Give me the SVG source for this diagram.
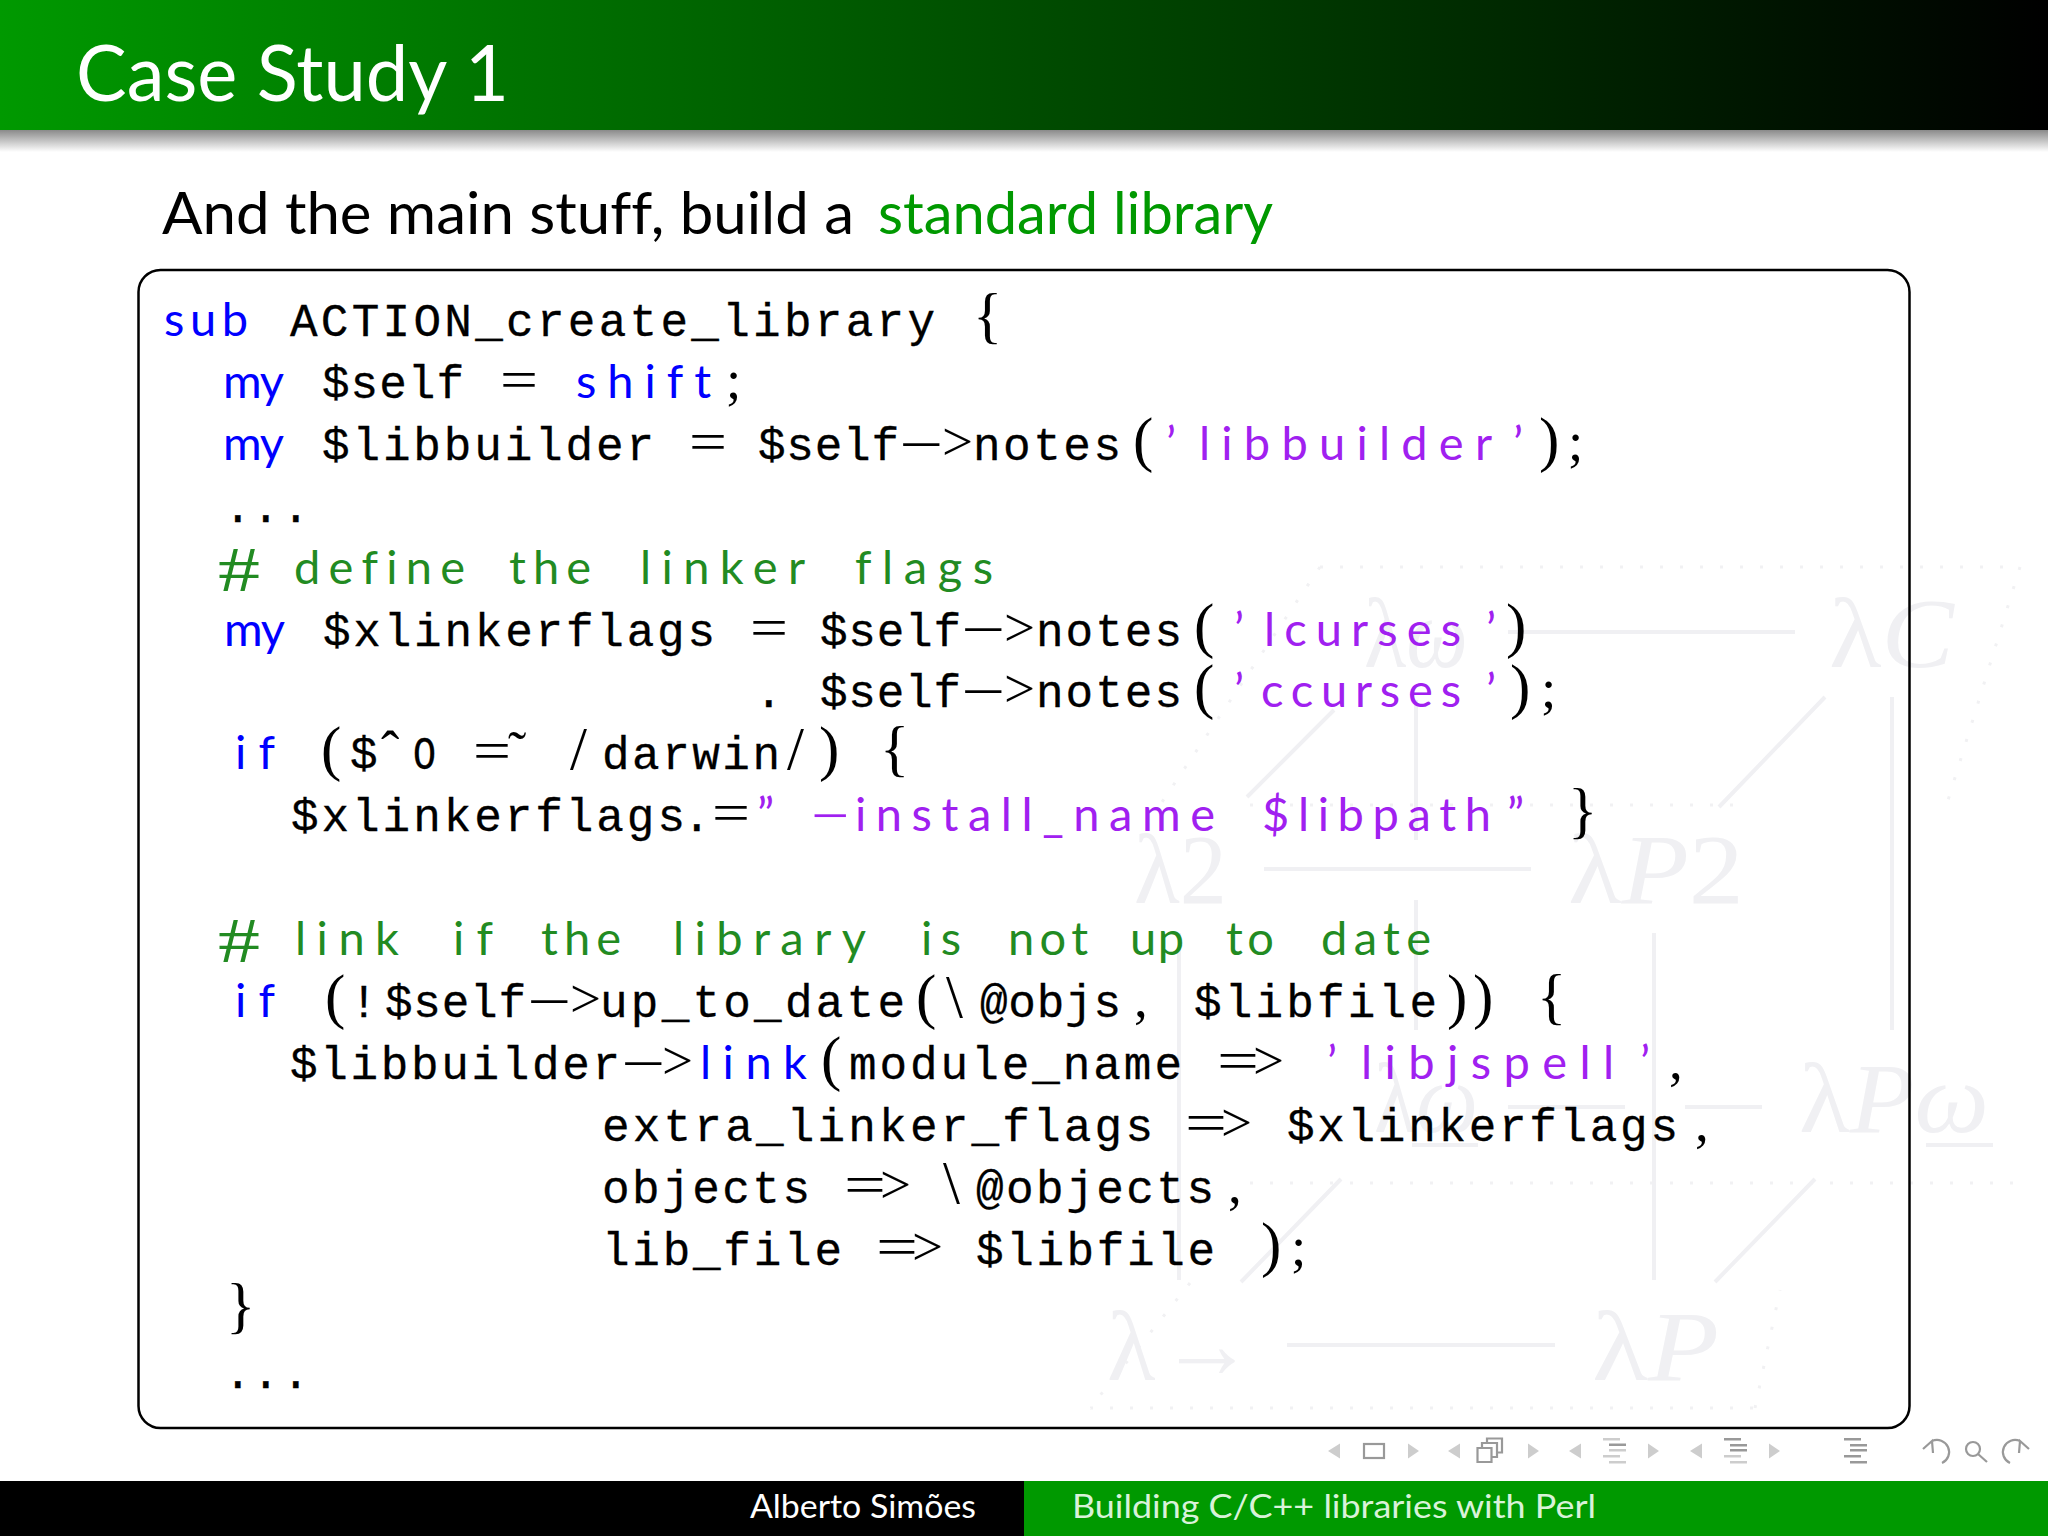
<svg xmlns="http://www.w3.org/2000/svg" width="2048" height="1536" viewBox="0 0 2048 1536">
<style>
text{white-space:pre;font-variant-ligatures:none}
.ss{font-family:"Lato","Liberation Sans",sans-serif}
.t{font-family:"Liberation Mono",monospace;font-size:46px;fill:#000;stroke:#000;stroke-width:.3px}
.k,.c,.s{font-family:"Lato","Liberation Sans",sans-serif;font-size:47px}
.k{fill:#0000ff}.c{fill:#228b22}.s{fill:#a020f0}
.m{font-family:"Liberation Serif",serif;font-size:55px;fill:#000}
.b{font-family:"Liberation Serif",serif;font-size:61px;fill:#000}
.h{font-family:"Liberation Serif",serif;font-size:63px;fill:#228b22}
.p{fill:#a020f0}
.w{font-family:"Liberation Serif",serif;font-size:100px;fill:#f0f0f3}
.wi{font-style:italic}
.wl{stroke:#f0f0f3;stroke-width:4;fill:none}
.wd{stroke:#f1f1f3;stroke-width:3;stroke-dasharray:3 17;fill:none}
.n{fill:#cdcdcd}
.nd{fill:#999}
.nl{stroke:#999;stroke-width:2.2;fill:none}
</style>
<defs>
<linearGradient id="hg" x1="0" x2="1" y1="0" y2="0"><stop offset="0" stop-color="#009900"/><stop offset="1" stop-color="#000"/></linearGradient>
<linearGradient id="sh" x1="0" x2="0" y1="0" y2="1"><stop offset="0" stop-color="#8a8a8a"/><stop offset="1" stop-color="#fff"/></linearGradient>
<path id="lt" class="n" d="M0 -7.5L-12 0L0 7.5z"/>
<path id="gt" class="n" d="M0 -7.5L11 0L0 7.5z"/>
</defs>
<rect width="2048" height="1536" fill="#fff"/>

<g id="watermark">
<path class="wd" d="M1320 567H2020M1250 805H1750M1250 1183H2020M1090 1408H1755M2020 567L1945 810M1320 567L1160 805M1190 1283L1090 1408M1755 1408L1780 1290"/>
<path class="wl" d="M1508 632H1795M1264 869H1531M1508 1107H1625M1685 1107H1762M1287 1345H1555"/>
<path class="wl" d="M1334 710L1247 797M1825 697L1719 807M1341 1179L1241 1282M1815 1179L1715 1282"/>
<path class="wl" d="M1416 700V840M1416 900V1030M1892 697V1030M1179 933V1280M1654 933V1280M1412 1145H1478M1926 1145H1993"/>
<text class="w" x="1364" y="667" textLength="104" lengthAdjust="spacingAndGlyphs">λ<tspan class="wi">ω</tspan></text>
<text class="w" x="1829" y="667" textLength="125" lengthAdjust="spacingAndGlyphs">λ<tspan class="wi">C</tspan></text>
<text class="w" x="1134" y="903" textLength="93" lengthAdjust="spacingAndGlyphs">λ2</text>
<text class="w" x="1568" y="903" textLength="176" lengthAdjust="spacingAndGlyphs">λ<tspan class="wi">P</tspan>2</text>
<text class="w" x="1374" y="1132" textLength="104" lengthAdjust="spacingAndGlyphs">λ<tspan class="wi">ω</tspan></text>
<text class="w" x="1799" y="1132" textLength="190" lengthAdjust="spacingAndGlyphs">λ<tspan class="wi">Pω</tspan></text>
<text class="w" x="1107" y="1380">λ</text>
<text class="w" x="1160" y="1378" textLength="94" lengthAdjust="spacingAndGlyphs">→</text>
<text class="w" x="1592" y="1380" textLength="127" lengthAdjust="spacingAndGlyphs">λ<tspan class="wi">P</tspan></text>
</g>

<g id="header">
<rect width="2048" height="130" fill="url(#hg)"/>
<rect y="130" width="2048" height="22" fill="url(#sh)"/>
<text class="ss" x="76" y="100.5" font-size="78" fill="#fff" textLength="433" lengthAdjust="spacingAndGlyphs">Case Study 1</text>
</g>

<g id="subtitle">
<text class="ss" x="162" y="234" font-size="58" fill="#000" textLength="692" lengthAdjust="spacingAndGlyphs">And the main stuff, build a</text>
<text class="ss" x="878" y="234" font-size="58" fill="#009900" textLength="395" lengthAdjust="spacingAndGlyphs">standard library</text>
</g>

<rect id="codebox" x="138.5" y="270" width="1771" height="1158" rx="22" ry="22" fill="none" stroke="#000" stroke-width="2.5"/>

<g id="code" transform="translate(0,1)">
<text class="k" x="164" y="335" textLength="84">sub</text><text class="t" x="290" y="335" textLength="645">ACTION_create_library</text><text class="b" x="973" y="335">{</text>

<text class="k" x="223" y="397" textLength="61">my</text><text class="t" x="322" y="397" textLength="142">$self</text><text class="m" x="500" y="397" textLength="38" lengthAdjust="spacingAndGlyphs">=</text><text class="k" x="576" y="397" textLength="135">shift</text><text class="m" x="726" y="397">;</text>

<text class="k" x="223" y="459" textLength="61">my</text><text class="t" x="322" y="459" textLength="332">$libbuilder</text><text class="m" x="689" y="459" textLength="38" lengthAdjust="spacingAndGlyphs">=</text><text class="t" x="758" y="459" textLength="141">$self</text><text class="m" x="899" y="461.5" textLength="44" lengthAdjust="spacingAndGlyphs">−</text><text class="m" x="942" y="459">&gt;</text><text class="t" x="973" y="459" textLength="148">notes</text><text class="b" x="1133" y="459">(</text><text class="s" x="1166" y="459">’</text><text class="s" x="1199" y="459" textLength="293">libbuilder</text><text class="s" x="1513" y="459">’</text><text class="b" x="1539" y="459">)</text><text class="m" x="1568" y="459">;</text>

<text class="t" x="224 252 282" y="520.7">...</text>

<text class="h" x="218" y="590" textLength="42" lengthAdjust="spacingAndGlyphs">#</text><text class="c" x="294" y="582.6" textLength="171">define</text><text class="c" x="509" y="582.6" textLength="82">the</text><text class="c" x="640" y="582.6" textLength="165">linker</text><text class="c" x="855" y="582.6" textLength="138">flags</text>

<text class="k" x="224" y="644.5" textLength="61">my</text><text class="t" x="323" y="644.5" textLength="392">$xlinkerflags</text><text class="m" x="750" y="644.5" textLength="38" lengthAdjust="spacingAndGlyphs">=</text><text class="t" x="820" y="644.5" textLength="141">$self</text><text class="m" x="961" y="647" textLength="44" lengthAdjust="spacingAndGlyphs">−</text><text class="m" x="1004" y="644.5">&gt;</text><text class="t" x="1036" y="644.5" textLength="146">notes</text><text class="b" x="1194" y="644.5">(</text><text class="s" x="1234" y="644.5">’</text><text class="s" x="1264" y="644.5" textLength="197">lcurses</text><text class="s" x="1486" y="644.5">’</text><text class="b" x="1506" y="644.5">)</text>

<text class="t" x="755" y="706.4">.</text><text class="t" x="820" y="706.4" textLength="141">$self</text><text class="m" x="961" y="709" textLength="44" lengthAdjust="spacingAndGlyphs">−</text><text class="m" x="1004" y="706.4">&gt;</text><text class="t" x="1036" y="706.4" textLength="146">notes</text><text class="b" x="1194" y="706.4">(</text><text class="s" x="1234" y="706.4">’</text><text class="s" x="1261" y="706.4" textLength="200">ccurses</text><text class="s" x="1486" y="706.4">’</text><text class="b" x="1510" y="706.4">)</text><text class="m" x="1541" y="706.4">;</text>

<text class="k" x="235" y="768.3" textLength="40">if</text><text class="b" x="321" y="768.3">(</text><text class="t" x="350" y="768.3">$</text><text class="m" x="381" y="768.3">ˆ</text><text class="t" x="413" y="768.3" textLength="23" lengthAdjust="spacingAndGlyphs">O</text><text class="m" x="473" y="768.3" textLength="38" lengthAdjust="spacingAndGlyphs">=</text><text class="m" x="508" y="768.3">˜</text><text class="b" x="570" y="768.3">/</text><text class="t" x="602" y="768.3" textLength="178">darwin</text><text class="b" x="787" y="768.3">/</text><text class="b" x="819" y="768.3">)</text><text class="b" x="880" y="768.3">{</text>

<text class="t" x="291" y="830.2" textLength="394">$xlinkerflags</text><text class="t" x="683" y="830.2">.</text><text class="m" x="712" y="830.2" textLength="38" lengthAdjust="spacingAndGlyphs">=</text><text class="s" x="757" y="830.2">”</text><text class="m p" x="811" y="832.5" textLength="38" lengthAdjust="spacingAndGlyphs">−</text><text class="s" x="855" y="830.2" textLength="360">install_name</text><text class="s" x="1262" y="830.2" textLength="229">$libpath</text><text class="s" x="1507" y="830.2">”</text><text class="b" x="1568" y="830.2">}</text>

<text class="h" x="218" y="961.4" textLength="42" lengthAdjust="spacingAndGlyphs">#</text><text class="c" x="295" y="954" textLength="104">link</text><text class="c" x="453" y="954" textLength="40">if</text><text class="c" x="541" y="954" textLength="80">the</text><text class="c" x="673" y="954" textLength="193">library</text><text class="c" x="921" y="954" textLength="40">is</text><text class="c" x="1008" y="954" textLength="80">not</text><text class="c" x="1130" y="954" textLength="54">up</text><text class="c" x="1226" y="954" textLength="48">to</text><text class="c" x="1321" y="954" textLength="110">date</text>

<text class="k" x="235" y="1016" textLength="40">if</text><text class="b" x="325" y="1016">(</text><text class="t" x="350" y="1016">!</text><text class="t" x="385" y="1016" textLength="141">$self</text><text class="m" x="527" y="1018.5" textLength="44" lengthAdjust="spacingAndGlyphs">−</text><text class="m" x="570" y="1016">&gt;</text><text class="t" x="600" y="1016" textLength="305">up_to_date</text><text class="b" x="916" y="1016">(</text><text class="b" x="946" y="1016">\</text><text class="t" x="980" y="1016" textLength="141">@objs</text><text class="m" x="1134" y="1016">,</text><text class="t" x="1194" y="1016" textLength="243">$libfile</text><text class="b" x="1447" y="1016">)</text><text class="b" x="1473" y="1016">)</text><text class="b" x="1537" y="1016">{</text>

<text class="t" x="290" y="1078" textLength="330">$libbuilder</text><text class="m" x="621" y="1080.5" textLength="44" lengthAdjust="spacingAndGlyphs">−</text><text class="m" x="662" y="1078">&gt;</text><text class="k" x="700" y="1078" textLength="107">link</text><text class="b" x="821" y="1078">(</text><text class="t" x="849" y="1078" textLength="333">module_name</text><text class="m" x="1217" y="1078" textLength="42" lengthAdjust="spacingAndGlyphs">=</text><text class="m" x="1253" y="1078">&gt;</text><text class="s" x="1327" y="1078">’</text><text class="s" x="1361" y="1078" textLength="253">libjspell</text><text class="s" x="1640" y="1078">’</text><text class="m" x="1669" y="1078">,</text>

<text class="t" x="602" y="1139.7" textLength="551">extra_linker_flags</text><text class="m" x="1185" y="1139.7" textLength="42" lengthAdjust="spacingAndGlyphs">=</text><text class="m" x="1221" y="1139.7">&gt;</text><text class="t" x="1287" y="1139.7" textLength="391">$xlinkerflags</text><text class="m" x="1695" y="1139.7">,</text>

<text class="t" x="602" y="1201.6" textLength="208">objects</text><text class="m" x="844" y="1201.6" textLength="42" lengthAdjust="spacingAndGlyphs">=</text><text class="m" x="880" y="1201.6">&gt;</text><text class="b" x="943" y="1201.6">\</text><text class="t" x="976" y="1201.6" textLength="238">@objects</text><text class="m" x="1228" y="1201.6">,</text>

<text class="t" x="602" y="1263.5" textLength="240">lib_file</text><text class="m" x="876" y="1263.5" textLength="42" lengthAdjust="spacingAndGlyphs">=</text><text class="m" x="912" y="1263.5">&gt;</text><text class="t" x="976" y="1263.5" textLength="239">$libfile</text><text class="b" x="1261" y="1263.5">)</text><text class="m" x="1291" y="1263.5">;</text>

<text class="b" x="226" y="1325.4">}</text>
<text class="t" x="224 252 282" y="1387.3">...</text>
</g>

<g id="navigation">
<use href="#lt" x="1340" y="1451"/><rect class="nl" x="1364" y="1444" width="20" height="14"/><use href="#gt" x="1408" y="1451"/>
<use href="#lt" x="1460" y="1451"/><path class="nl" d="M1477.5 1448h14v14h-14zM1482 1448v-5h15v14h-5.500M1487 1443v-4.500h15v14h-5"/><use href="#gt" x="1528" y="1451"/>
<use href="#lt" x="1581" y="1451"/>
<path class="n" d="M1603 1438h17v2.500h-17zM1609 1449h17v2.500h-17zM1603 1455h17v2.500h-17zM1609 1461h17v2.500h-17z"/><path class="nd" d="M1609 1443.500h17v2.500h-17z"/>
<use href="#gt" x="1648" y="1451"/>
<use href="#lt" x="1702" y="1451"/>
<path class="nd" d="M1724 1438h17v2.500h-17zM1730 1444h17v2.500h-17zM1730 1449h17v2.500h-17z"/><path class="n" d="M1724 1455h17v2.500h-17zM1730 1461h17v2.500h-17z"/>
<use href="#gt" x="1769" y="1451"/>
<path class="nd" d="M1844 1438h17v2.500h-17zM1850 1444h17v2.500h-17zM1850 1449h17v2.500h-17zM1844 1455h17v2.500h-17zM1850 1461h17v2.500h-17z"/>
<path class="nl" d="M1932 1441A12 12 0 1 1 1942 1463M1923 1449l9-8 1 12"/>
<circle class="nl" cx="1973" cy="1449" r="7"/><path class="nl" stroke-width="3" d="M1978 1454l9 8"/>
<path class="nl" d="M2020 1441A12 12 0 1 0 2010 1463M2029 1449l-9-8-1 12"/>
</g>

<g id="footer">
<rect y="1481" width="1024" height="55" fill="#000"/>
<rect x="1024" y="1481" width="1024" height="55" fill="#009900"/>
<text class="ss" x="750" y="1518" font-size="32" fill="#fff" textLength="226" lengthAdjust="spacingAndGlyphs">Alberto Simões</text>
<text class="ss" x="1072" y="1518" font-size="32" fill="#d9f2d9" textLength="524" lengthAdjust="spacingAndGlyphs">Building C/C++ libraries with Perl</text>
</g>
</svg>
